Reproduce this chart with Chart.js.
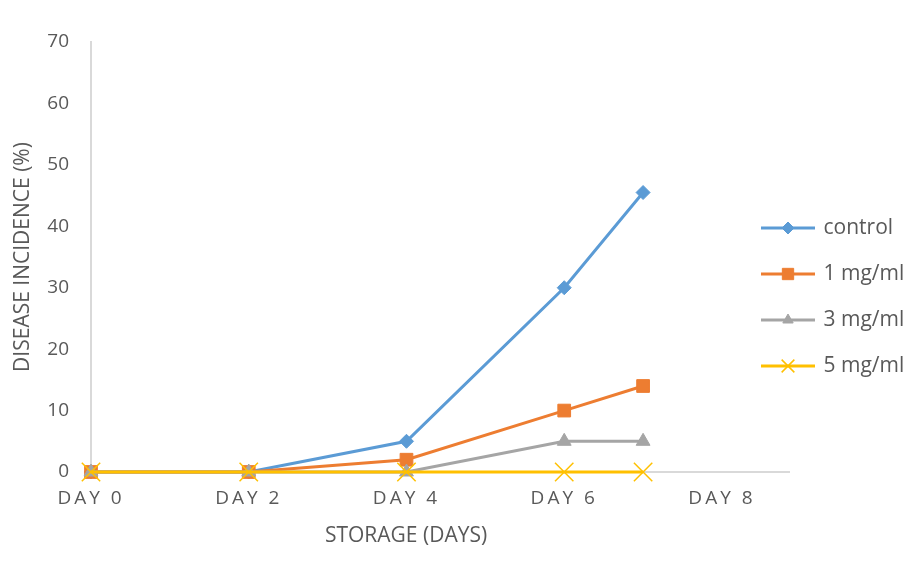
<!DOCTYPE html>
<html>
<head>
<meta charset="utf-8">
<script src="https://cdn.jsdelivr.net/npm/chart.js@4.4.1/dist/chart.umd.min.js"></script>
<style>
  html, body { margin: 0; padding: 0; background: #fff; }
  #wrap { width: 921px; height: 577px; }
</style>
</head>
<body>
<div id="wrap"><canvas id="chart" width="921" height="577"></canvas></div>
<script>
// storage days and disease incidence (%) per treatment
const days = [0, 2, 4, 6, 7];
const control = [0, 0, 5, 30, 45.5];
const mg1 = [0, 0, 2, 10, 14];
const mg3 = [0, 0, 0, 5, 5];
const mg5 = [0, 0, 0, 0, 0];
const seriesNames = ['control', '1 mg/ml', '3 mg/ml', '5 mg/ml'];
const xTicks = [0, 2, 4, 6, 8];
const yTicks = [0, 10, 20, 30, 40, 50, 60, 70];

const TXT = '#595959';
const AXIS = '#d9d9d9';
const FONT = "'Open Sans', 'Liberation Sans', sans-serif";

const styles = [
  { color: '#5b9bd5', point: 'rectRot', r: 7, lw: 1, lr: 6 },
  { color: '#ed7d31', point: 'rect', r: 9, lw: 1, lr: 8 },
  { color: '#a5a5a5', point: 'triangle', r: 8, lw: 1, lr: 6 },
  { color: '#ffc000', point: 'crossRot', r: 13, lw: 1.5, lr: 9 }
];
const values = [control, mg1, mg3, mg5];

// little line + marker pictures for the legend
function legendIcon(s) {
  const c = document.createElement('canvas');
  c.width = 54; c.height = 20;
  const g = c.getContext('2d');
  g.strokeStyle = s.color;
  g.lineWidth = 3;
  g.beginPath(); g.moveTo(0, 10); g.lineTo(54, 10); g.stroke();
  g.fillStyle = s.color;
  g.lineWidth = s.lw;
  Chart.helpers.drawPoint(g, { pointStyle: s.point, radius: s.lr, borderWidth: s.lw }, 27, 10);
  return c;
}
const icons = styles.map(legendIcon);

const datasets = values.map((vals, i) => ({
  label: seriesNames[i],
  data: days.map((d, k) => ({ x: d, y: vals[k] })),
  borderColor: styles[i].color,
  backgroundColor: styles[i].color,
  borderWidth: 3,
  pointStyle: styles[i].point,
  pointRadius: styles[i].r,
  pointHoverRadius: styles[i].r,
  pointBorderWidth: styles[i].lw,
  tension: 0,
  clip: false,
  order: values.length - i   // later series on top
}));

// x labels are spaced out, x title sits a bit left of centre,
// legend floats over the right end of the plot
const tweaks = {
  id: 'tweaks',
  afterLayout(chart) {
    const lg = chart.legend;
    lg.left = 738; lg.right = 921; lg.width = 183;
    lg.top = 154; lg.bottom = 440; lg.height = 286;
  },
  beforeDraw(chart) {
    const x = chart.scales.x;
    if (x._patched) return;
    x._patched = true;
    const drawLabels = x.drawLabels, drawTitle = x.drawTitle;
    x.drawLabels = function (area) {
      const ctx = this.ctx;
      ctx.save();
      ctx.letterSpacing = '3px';
      drawLabels.call(this, area);
      ctx.restore();
    };
    x.drawTitle = function (area) {
      const ctx = this.ctx;
      ctx.save();
      ctx.translate(-34, 0);
      drawTitle.call(this, area);
      ctx.restore();
    };
  }
};

new Chart(document.getElementById('chart'), {
  type: 'line',
  data: { datasets: datasets },
  plugins: [tweaks],
  options: {
    responsive: false,
    animation: false,
    layout: { padding: { left: 10, top: 42, right: 132, bottom: 0 } },
    plugins: {
      tooltip: { enabled: false },
      legend: {
        position: 'chartArea',
        labels: {
          usePointStyle: true,
          pointStyleWidth: 50,
          padding: 25,
          color: TXT,
          font: { family: FONT, size: 21 },
          generateLabels(chart) {
            const items = Chart.defaults.plugins.legend.labels.generateLabels(chart);
            items.forEach(it => { it.pointStyle = icons[it.datasetIndex]; });
            return items;
          },
          sort: (a, b) => a.datasetIndex - b.datasetIndex
        }
      }
    },
    scales: {
      x: {
        type: 'linear',
        min: 0,
        max: 8.85,
        afterBuildTicks: s => { s.ticks = xTicks.map(v => ({ value: v })); },
        afterFit: s => { s.height = 105; },
        grid: { display: false, drawTicks: false },
        border: { display: true, color: AXIS, width: 2 },
        ticks: {
          padding: 15,
          color: TXT,
          font: { family: FONT, size: 19 },
          maxRotation: 0,
          callback: v => 'DAY ' + v
        },
        title: {
          display: true,
          text: 'STORAGE (DAYS)',
          color: TXT,
          font: { family: FONT, size: 21 },
          padding: { top: 4, bottom: 28 }
        }
      },
      y: {
        min: 0,
        max: 70,
        afterBuildTicks: s => { s.ticks = yTicks.map(v => ({ value: v })); },
        afterFit: s => { s.width = 81; },
        grid: { display: false, drawTicks: false },
        border: { display: true, color: AXIS, width: 2 },
        ticks: {
          padding: 22,
          color: TXT,
          font: { family: FONT, size: 19 }
        },
        title: {
          display: true,
          text: 'DISEASE INCIDENCE (%)',
          color: TXT,
          font: { family: FONT, size: 21 },
          padding: { top: 0, bottom: 4 }
        }
      }
    }
  }
});
</script>
</body>
</html>
